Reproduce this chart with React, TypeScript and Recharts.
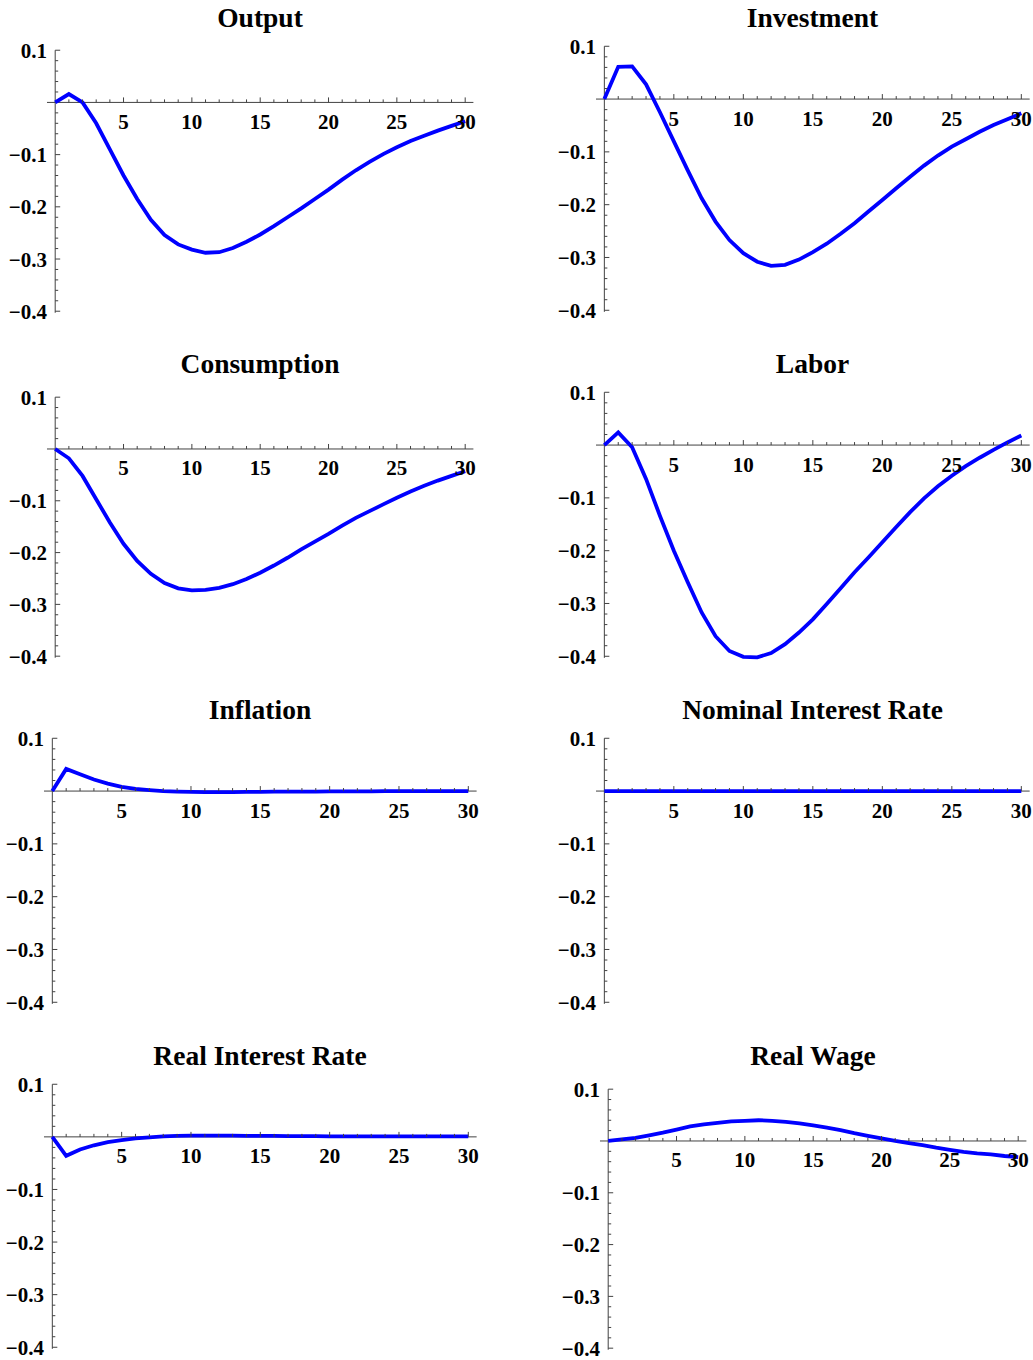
import React from 'react';
import { LineChart, Line, XAxis, YAxis, ReferenceLine, ReferenceDot } from 'recharts';

// quarters after the shock
const periods = [0, 1, 2, 3, 4, 5, 6, 7, 8, 9, 10, 11, 12, 13, 14, 15, 16, 17, 18, 19, 20, 21, 22, 23, 24, 25, 26, 27, 28, 29, 30];

const output = [0, 0.016, 0.0, -0.04, -0.09, -0.14, -0.185, -0.225, -0.254, -0.272, -0.282, -0.288, -0.287, -0.279, -0.267, -0.253, -0.237, -0.22, -0.203, -0.185, -0.167, -0.148, -0.13, -0.114, -0.099, -0.086, -0.074, -0.064, -0.054, -0.045, -0.036];
const investment = [0, 0.061, 0.062, 0.028, -0.025, -0.08, -0.135, -0.188, -0.232, -0.267, -0.292, -0.308, -0.316, -0.314, -0.304, -0.29, -0.274, -0.255, -0.235, -0.213, -0.191, -0.169, -0.147, -0.126, -0.107, -0.09, -0.076, -0.062, -0.049, -0.038, -0.027];
const consumption = [0, -0.018, -0.052, -0.097, -0.142, -0.183, -0.216, -0.241, -0.259, -0.269, -0.273, -0.272, -0.268, -0.261, -0.251, -0.239, -0.225, -0.21, -0.194, -0.179, -0.164, -0.148, -0.133, -0.12, -0.107, -0.094, -0.082, -0.071, -0.061, -0.052, -0.043];
const labor = [0, 0.024, -0.004, -0.064, -0.134, -0.2, -0.26, -0.317, -0.362, -0.39, -0.401, -0.402, -0.394, -0.377, -0.355, -0.33, -0.301, -0.271, -0.241, -0.213, -0.184, -0.155, -0.127, -0.101, -0.078, -0.058, -0.04, -0.024, -0.009, 0.005, 0.018];
const inflation = [0, 0.042, 0.032, 0.022, 0.014, 0.008, 0.004, 0.002, 0.0, -0.001, -0.0015, -0.002, -0.002, -0.002, -0.0015, -0.0015, -0.001, -0.001, -0.001, -0.001, -0.0005, -0.0005, -0.0005, -0.0005, 0, 0, 0, 0, 0, 0, 0];
const nominalRate = [0, 0, 0, 0, 0, 0, 0, 0, 0, 0, 0, 0, 0, 0, 0, 0, 0, 0, 0, 0, 0, 0, 0, 0, 0, 0, 0, 0, 0, 0, 0];
const realRate = [0, -0.036, -0.024, -0.016, -0.01, -0.006, -0.003, -0.001, 0.001, 0.002, 0.0025, 0.0025, 0.0025, 0.0025, 0.002, 0.002, 0.002, 0.0015, 0.0015, 0.0015, 0.001, 0.001, 0.001, 0.001, 0.001, 0.001, 0.001, 0.001, 0.001, 0.001, 0.001];
const realWage = [0, 0.003, 0.006, 0.011, 0.016, 0.022, 0.028, 0.032, 0.035, 0.038, 0.039, 0.04, 0.039, 0.037, 0.034, 0.03, 0.026, 0.021, 0.015, 0.01, 0.005, 0.0, -0.004, -0.008, -0.013, -0.017, -0.021, -0.024, -0.026, -0.029, -0.031];

const xMajorTicks = [5, 10, 15, 20, 25, 30];
const xMinorTicks = [1, 2, 3, 4, 6, 7, 8, 9, 11, 12, 13, 14, 16, 17, 18, 19, 21, 22, 23, 24, 26, 27, 28, 29];
const yMajorTicks = [0.1, -0.1, -0.2, -0.3, -0.4];
const yMinorTicks = [0.08, 0.06, 0.04, 0.02, -0.02, -0.04, -0.06, -0.08, -0.12, -0.14, -0.16, -0.18, -0.22, -0.24, -0.26, -0.28, -0.32, -0.34, -0.36, -0.38];

// where each frame sits on the page (y axis at x=0, x=30, y=0.1, y=-0.4, title baseline)
const panels = [
  { title: 'Output', values: output, x0: 55, x30: 465, y01: 50, ym04: 311, titleY: 27 },
  { title: 'Investment', values: investment, x0: 604, x30: 1021, y01: 46, ym04: 310, titleY: 27 },
  { title: 'Consumption', values: consumption, x0: 55, x30: 465, y01: 397, ym04: 656, titleY: 373 },
  { title: 'Labor', values: labor, x0: 604, x30: 1021, y01: 392, ym04: 656, titleY: 373 },
  { title: 'Inflation', values: inflation, x0: 52, x30: 468, y01: 738, ym04: 1002, titleY: 719 },
  { title: 'Nominal Interest Rate', values: nominalRate, x0: 604, x30: 1021, y01: 738, ym04: 1002, titleY: 719 },
  { title: 'Real Interest Rate', values: realRate, x0: 52, x30: 468, y01: 1084, ym04: 1347, titleY: 1065 },
  { title: 'Real Wage', values: realWage, x0: 608, x30: 1018, y01: 1089, ym04: 1348, titleY: 1065 },
];

const FONT = '"Liberation Serif", "Times New Roman", serif';
const AXIS = '#404040';
const X_PAD = 0.6;
const Y_MIN = -0.41;
const Y_MAX = 0.11;
const Y_AXIS_W = 60;
const PAD = 14;

const fmt = (v: number) => (v < 0 ? '\u2212' + Math.abs(v).toFixed(1) : v.toFixed(1));

const YTickLabel = (props: any) => (
  <text x={props.x} y={props.y} dy={7.5} textAnchor="end" fontFamily={FONT} fontWeight="bold" fontSize={21} fill="#000">
    {fmt(props.payload.value)}
  </text>
);

const xTick = (len: number, label?: string) => (p: any) => (
  <g>
    <line x1={p.cx} y1={p.cy} x2={p.cx} y2={p.cy - len} stroke={AXIS} strokeWidth={1} />
    {label && (
      <text x={p.cx} y={p.cy + 26.5} textAnchor="middle" fontFamily={FONT} fontWeight="bold" fontSize={21} fill="#000">
        {label}
      </text>
    )}
  </g>
);

const yTick = (len: number) => (p: any) => (
  <line x1={p.cx} y1={p.cy} x2={p.cx + len} y2={p.cy} stroke={AXIS} strokeWidth={1} />
);

function Panel({ p }: { p: (typeof panels)[number] }) {
  const pxX = (p.x30 - p.x0) / 30;
  const pxY = (p.ym04 - p.y01) / 0.5;
  const plotLeft = p.x0 - X_PAD * pxX;
  const plotW = (30 + 2 * X_PAD) * pxX;
  const plotTop = p.y01 - (Y_MAX - 0.1) * pxY;
  const plotH = (Y_MAX - Y_MIN) * pxY;
  const data = periods.map((t, i) => ({ t, v: p.values[i] }));

  return (
    <div style={{ position: 'absolute', left: plotLeft - Y_AXIS_W, top: plotTop - PAD }}>
      <LineChart
        width={plotW + Y_AXIS_W + PAD}
        height={plotH + 2 * PAD}
        data={data}
        margin={{ top: PAD, right: PAD, bottom: PAD, left: 0 }}
      >
        <XAxis type="number" dataKey="t" domain={[-X_PAD, 30 + X_PAD]} hide />
        <YAxis
          type="number"
          domain={[Y_MIN, Y_MAX]}
          ticks={yMajorTicks}
          width={Y_AXIS_W}
          axisLine={false}
          tickLine={false}
          tickSize={0}
          tickMargin={0}
          tick={YTickLabel}
          interval={0}
        />
        <ReferenceLine y={0} stroke={AXIS} strokeWidth={1} />
        <ReferenceLine segment={[{ x: 0, y: -0.403 }, { x: 0, y: 0.1 }]} stroke={AXIS} strokeWidth={1} />
        {xMinorTicks.map((t) => (
          <ReferenceDot key={'xm' + t} x={t} y={0} r={0} shape={xTick(3)} />
        ))}
        {xMajorTicks.map((t) => (
          <ReferenceDot key={'xM' + t} x={t} y={0} r={0} shape={xTick(5, String(t))} />
        ))}
        {yMinorTicks.map((v) => (
          <ReferenceDot key={'ym' + v} x={0} y={v} r={0} shape={yTick(3)} />
        ))}
        {yMajorTicks.map((v) => (
          <ReferenceDot key={'yM' + v} x={0} y={v} r={0} shape={yTick(5)} />
        ))}
        <Line
          type="linear"
          dataKey="v"
          stroke="#0000ff"
          strokeWidth={3.8}
          dot={false}
          activeDot={false}
          isAnimationActive={false}
        />
      </LineChart>
    </div>
  );
}

export default function App() {
  return (
    <div style={{ position: 'absolute', left: 0, top: 0, width: 1033, height: 1360, background: '#fff' }}>
      {panels.map((p) => (
        <Panel key={p.title} p={p} />
      ))}
      <svg width={1033} height={1360} style={{ position: 'absolute', left: 0, top: 0, pointerEvents: 'none' }}>
        {panels.map((p) => (
          <text
            key={p.title}
            x={(p.x0 + p.x30) / 2}
            y={p.titleY}
            textAnchor="middle"
            fontFamily={FONT}
            fontWeight="bold"
            fontSize={27.5}
            fill="#000"
          >
            {p.title}
          </text>
        ))}
      </svg>
    </div>
  );
}
